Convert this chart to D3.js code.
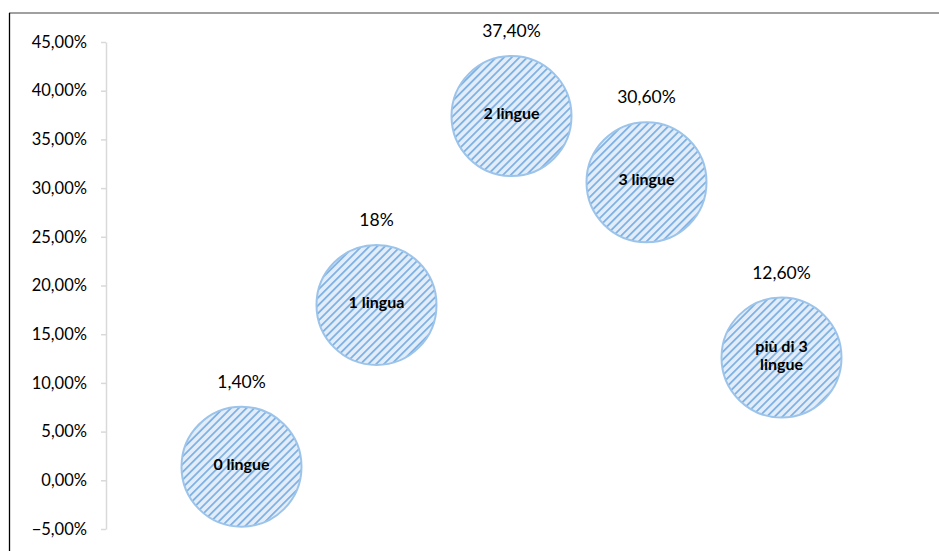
<!DOCTYPE html>
<html><head><meta charset="utf-8">
<script src="https://cdn.jsdelivr.net/npm/d3@7"></script>
<style>body{margin:0;background:#fff}svg{display:block}</style>
</head><body>
<script>
const categories = ["0 lingue","1 lingua","2 lingue","3 lingue","più di 3 lingue"];
const xValues = [1,2,3,4,5];
const values = [1.4,18,37.4,30.6,12.6];
const valueLabels = ["1,40%","18%","37,40%","30,60%","12,60%"];
const yTicks = [-5,0,5,10,15,20,25,30,35,40,45];

const W=939,H=551;
const svg=d3.select("body").append("svg").attr("width",W).attr("height",H);
const defs=svg.append("defs");
const pat=defs.append("pattern").attr("id","hatch").attr("patternUnits","userSpaceOnUse")
  .attr("width",5.5).attr("height",5.5).attr("patternTransform","rotate(45)");
pat.append("rect").attr("width",5.5).attr("height",5.5).attr("fill","#e2edf9");
pat.append("rect").attr("x",0).attr("width",1.8).attr("height",5.5).attr("fill","#7fb1e3");

// frame
svg.append("line").attr("x1",9).attr("x2",W).attr("y1",13).attr("y2",13).attr("stroke","#808080").attr("stroke-width",1.5);
svg.append("line").attr("x1",9.5).attr("x2",9.5).attr("y1",13).attr("y2",H).attr("stroke","#000").attr("stroke-width",1.3);

const x=d3.scaleLinear().domain([0,6]).range([106.5,916.5]);
const y=d3.scaleLinear().domain([-5,45]).range([529,42]);

const yAxis=svg.append("g").attr("transform","translate(106,0)")
  .call(d3.axisLeft(y).tickValues(yTicks).tickSize(5).tickSizeOuter(0).tickPadding(14)
    .tickFormat(d=>d3.format(".2f")(d).replace(".",",")+"%"));
yAxis.select(".domain").attr("stroke","#d9d9d9").attr("stroke-width",1.5);
yAxis.selectAll(".tick line").attr("stroke","#d9d9d9").attr("stroke-width",1.5);
yAxis.selectAll(".tick text").attr("font-family","Lato, 'Open Sans', sans-serif").attr("font-size",16.5).attr("fill","#000");

const r=60;
const g=svg.append("g");
const data=categories.map((c,i)=>({c,x:xValues[i],v:values[i],l:valueLabels[i]}));
g.selectAll("circle").data(data).join("circle")
  .attr("cx",d=>x(d.x)).attr("cy",d=>y(d.v)).attr("r",r)
  .attr("fill","url(#hatch)").attr("stroke","#9cc4ea").attr("stroke-width",2);

g.selectAll("text.val").data(data).join("text").attr("class","val")
  .attr("x",d=>x(d.x)).attr("y",d=>y(d.v)-r-19)
  .attr("text-anchor","middle").attr("font-family","Lato, 'Open Sans', sans-serif").attr("font-size",17.5).attr("fill","#000")
  .text(d=>d.l);

g.selectAll("text.cat").data(data).join("text").attr("class","cat")
  .attr("x",d=>x(d.x)).attr("y",d=>y(d.v))
  .attr("text-anchor","middle").attr("font-family","Lato, 'Open Sans', sans-serif").attr("font-size",16).attr("font-weight","bold").attr("fill","#000")
  .each(function(d){
    const t=d3.select(this);
    const words=d.c.length>10?["più di 3","lingue"]:[d.c];
    const n=words.length;
    words.forEach((w,i)=>{
      t.append("tspan").attr("x",x(d.x)).attr("dy",i===0?((-(n-1)/2*18)+3)+"px":"18px").text(w);
    });
  });
</script>
</body></html>
